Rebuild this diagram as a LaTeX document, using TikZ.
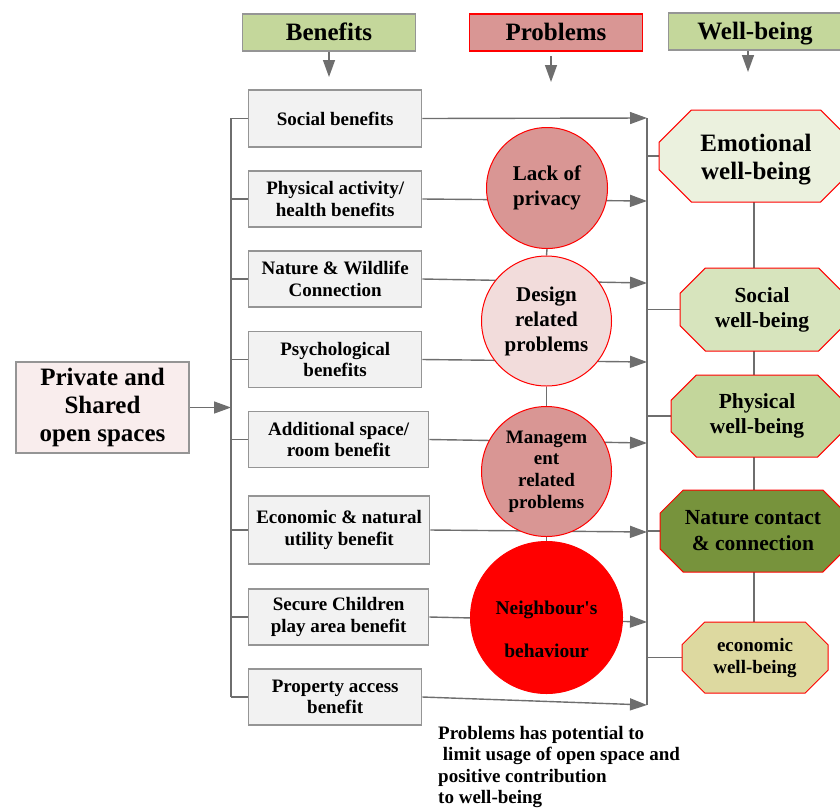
\documentclass[tikz,border=0pt]{standalone}
\usepackage{fontspec}
\setmainfont{Liberation Serif}
\usetikzlibrary{arrows.meta,shapes.misc,backgrounds}

\definecolor{hdrgreen}{HTML}{C4D79B}
\definecolor{probred}{HTML}{D99694}
\definecolor{boxgray}{HTML}{F2F2F2}
\definecolor{edgegray}{HTML}{959595}
\definecolor{linegray}{HTML}{6E6E6E}
\definecolor{pinkfill}{HTML}{F9EDED}
\definecolor{designfill}{HTML}{F2DCDB}
\definecolor{emofill}{HTML}{EBF1DE}
\definecolor{socfill}{HTML}{D7E4BD}
\definecolor{physfill}{HTML}{C3D69B}
\definecolor{natfill}{HTML}{77933C}
\definecolor{econfill}{HTML}{DDD9A0}

\tikzset{
  fs/.style 2 args={font=\bfseries\fontsize{#1}{#2}\selectfont},
  header/.style={draw=edgegray, line width=1.3pt, minimum width=173pt,
    minimum height=37pt, inner sep=0pt, text height=16.5pt, text depth=0pt,
    fs={25}{28}},
  benefit/.style={draw=edgegray, fill=boxgray, line width=1.3pt,
    minimum width=173pt, minimum height=56pt, inner sep=0pt, align=center,
    anchor=west, fs={19}{21.5}},
  problem/.style={circle, draw=red, line width=1pt, inner sep=0pt,
    align=center},
  wellbeing/.style={chamfered rectangle, chamfered rectangle angle=45,
    draw=red, line width=1pt, inner sep=0pt, align=center},
  link/.style={draw=linegray, line width=1.4pt},
  arrowlink/.style={link, -{Triangle[length=17pt,width=12pt]}}
}

\begin{document}
\begin{tikzpicture}[x=1pt,y=-1pt]
\useasboundingbox (0,0) rectangle (840,807);

% column headers
\node[header, fill=hdrgreen] (hb) at (329,32.5) {Benefits};
\node[header, fill=probred, draw=red] (hp) at (556,32.5) {Problems};
\node[header, fill=hdrgreen] (hw) at (755,31.5) {Well-being};

% source box
\node[benefit, anchor=center, fill=pinkfill, minimum height=91pt,
  fs={25}{28}] (os) at (102.5,407.5) {Private and\\Shared\\open spaces};

% benefit boxes
\node[benefit, minimum height=57pt] (b1) at (248,118.5) {Social benefits};
\node[benefit] (b2) at (248,199) {Physical activity/\\health benefits};
\node[benefit] (b3) at (248,279) {Nature \& Wildlife\\Connection};
\node[benefit] (b4) at (248,359.5) {Psychological\\benefits};
\node[benefit, minimum width=180pt] (b5) at (248,439.5) {Additional space/\\room benefit};
\node[benefit, minimum width=181pt, minimum height=68pt] (b6) at (248,530) {Economic \& natural\\utility benefit};
\node[benefit, minimum width=180pt] (b7) at (248,617) {Secure Children\\play area benefit};
\node[benefit] (b8) at (248,697) {Property access\\benefit};

% problem circles
\node[problem, fill=probred, minimum size=121pt, fs={21}{25}] (p1) at (547,188) {Lack of\\privacy};
\node[problem, fill=designfill, minimum size=130pt, fs={21}{25}] (p2) at (546.5,321) {Design\\related\\problems};
\node[problem, fill=probred, minimum size=130pt, fs={19}{21.7}] (p3) at (546.5,471.5) {Managem\\ent\\related\\problems};
\node[problem, fill=red, minimum size=152pt, fs={19.5}{21.7}] (p4) at (546.5,617.5) {\mbox{}\\[16pt]Neighbour\textquotesingle s\\[21.7pt]behaviour};

% well-being octagons
\node[wellbeing, fill=emofill, chamfered rectangle xsep=30pt, minimum width=194pt, minimum height=92pt, fs={25}{28}] (w1) at (756,156) {\mbox{}\\[-3pt]Emotional\\well-being};
\node[wellbeing, fill=socfill, chamfered rectangle xsep=27pt, minimum width=164pt, minimum height=83pt, fs={21.5}{25}] (w2) at (762,309.5) {Social\\well-being};
\node[wellbeing, fill=physfill, chamfered rectangle xsep=27pt, minimum width=172pt, minimum height=82pt, fs={21.5}{25}] (w3) at (757,416) {Physical\\well-being};
\node[wellbeing, fill=natfill, chamfered rectangle xsep=27pt, minimum width=186pt, minimum height=82pt, fs={21.5}{26}] (w4) at (753,531) {Nature contact\\\& connection};
\node[wellbeing, fill=econfill, chamfered rectangle xsep=24pt, minimum width=146pt, minimum height=71pt, fs={19}{22}] (w5) at (755,657.5) {economic\\well-being};

% note under the chart
\node[anchor=north west, align=left, inner sep=0pt, fs={19}{21.3}] (note) at (438,726) {Problems has potential to\\\ limit usage of open space and\\positive contribution\\to well-being};

% junction points
\coordinate (bt) at (231,118);
\coordinate (bb) at (231,697);
\coordinate (ct) at (647,118);
\coordinate (cb) at (647,705);
\coordinate (c2) at (647,201);
\coordinate (c3) at (647,283);
\coordinate (c4) at (647,362);
\coordinate (c5) at (647,443);
\coordinate (c6) at (647,532);
\coordinate (c7) at (647,622);
\coordinate (sp) at (754,0);
\coordinate (ha1) at (329,77);
\coordinate (hp0) at (551,56);
\coordinate (hp1) at (551,82);
\coordinate (hw0) at (748,50);
\coordinate (hw1) at (748,72);

\begin{pgfonlayer}{background}
  % header arrows
  \draw[arrowlink] (hb.south) -- (ha1);
  \draw[arrowlink] (hp0) -- (hp1);
  \draw[arrowlink] (hw0) -- (hw1);
  % left bracket
  \draw[link] (bt) -- (bb);
  \foreach \b in {b1,b2,b3,b4,b5,b6,b7,b8}
    \draw[link] (\b.west -| bt) -- (\b.west);
  \draw[arrowlink] (os.east) -- (os.east -| bt);
  % collector line
  \draw[link] (ct) -- (cb);
  \draw[arrowlink] (b1.east) -- (ct);
  \draw[arrowlink] (b2.east) -- (c2);
  \draw[arrowlink] (b3.east) -- (c3);
  \draw[arrowlink] (b4.east) -- (c4);
  \draw[arrowlink] (b5.east) -- (c5);
  \draw[arrowlink] (b6.east) -- (c6);
  \draw[arrowlink] (b7.east) -- (c7);
  \draw[arrowlink] (b8.east) -- (cb);
  % chain of problems
  \draw[link] (p1.south) -- (p2.north);
  \draw[link] (p2.south) -- (p3.north);
  \draw[link] (p3.south) -- (p4.north);
  % well-being spine and feeds
  \draw[link] (w1 -| sp) -- (w5 -| sp);
  \foreach \w in {w1,w2,w3,w4,w5}
    \draw[link] (\w.west -| ct) -- (\w.west);
\end{pgfonlayer}
\end{tikzpicture}
\end{document}
